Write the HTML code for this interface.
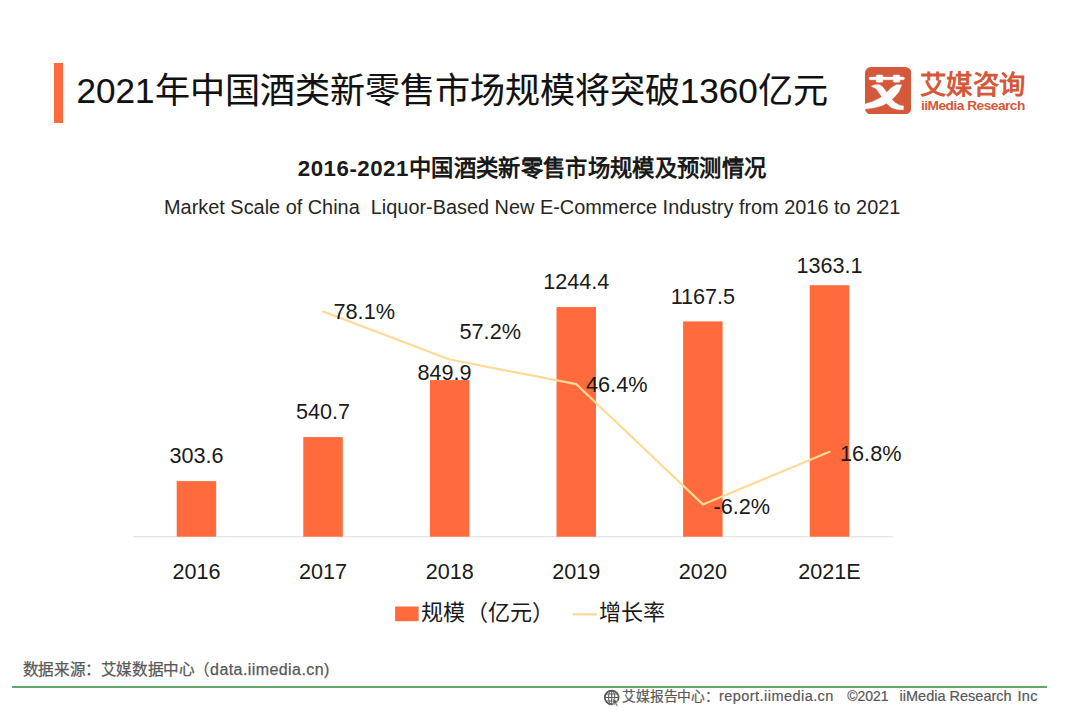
<!DOCTYPE html>
<html lang="zh-CN">
<head>
<meta charset="utf-8">
<title>2021年中国酒类新零售市场规模将突破1360亿元</title>
<style>
  html, body { margin: 0; padding: 0; }
  body {
    width: 1080px; height: 724px; position: relative; overflow: hidden;
    background: #ffffff; color: #1a1a1a;
    font-family: "Liberation Sans", sans-serif;
  }
  .abs { position: absolute; white-space: nowrap; }
  .t { position: absolute; white-space: nowrap; line-height: 1; }

  /* header */
  #accent { left: 54px; top: 63.4px; width: 9.2px; height: 59.4px; background: #ff6b3d; }
  #title { left: 76.6px; top: 70.6px; font-size: 35.1px; line-height: 40px; color: #111; -webkit-text-stroke: 0.12px #111; }

  /* logo */
  #logo-mark { left: 864.8px; top: 67px; width: 46.3px; height: 47.3px; }
  #logo-cn { left: 920px; top: 67.8px; letter-spacing: 0.25px; font-size: 26.4px; line-height: 34px; font-weight: bold; color: #d4593a; }
  #logo-en { left: 921px; top: 98px; font-size: 13.7px; line-height: 16px; font-weight: bold; color: #d4593a; letter-spacing: -0.5px; }

  /* subtitles */
  #sub-cn { left: 0; width: 1064px; text-align: center; top: 155px; font-size: 22.3px; line-height: 28px; font-weight: bold; color: #1a1a1a; letter-spacing: 0.33px; }
  #sub-cn span { letter-spacing: 0.5px; }
  #sub-en { left: 0; width: 1064.4px; text-align: center; top: 193.5px; font-size: 19.9px; line-height: 26px; color: #262626; }

  /* chart */
  #chart { left: 0; top: 0; width: 1080px; height: 724px; }
  .val  { font-size: 21.6px; line-height: 24px; color: #1a1a1a; text-align: center; width: 120px; margin-left: -60px; }
  .rate { font-size: 21.7px; line-height: 24px; color: #1a1a1a; }
  .year { font-size: 21.6px; line-height: 24px; color: #1a1a1a; text-align: center; width: 120px; margin-left: -60px; top: 560px; }

  /* legend */
  #lg1 { left: 421px; top: 598.8px; letter-spacing: 0.3px; font-size: 22.1px; line-height: 28px; color: #1a1a1a; }
  #lg2 { left: 599px; top: 598.8px; font-size: 22.1px; line-height: 28px; color: #1a1a1a; }

  /* footer */
  #src { left: 22.9px; top: 659.8px; font-size: 15.6px; line-height: 20px; color: #585858; -webkit-text-stroke: 0.25px #585858; letter-spacing: -0.4px; }
  #src span { font-size: 16px; letter-spacing: 0.42px; }
  #rule { left: 12px; top: 685.8px; width: 1035px; height: 2.3px; background: #5fa96c; }
  .cp { top: 686px; font-size: 14.5px; line-height: 20px; color: #585858; -webkit-text-stroke: 0.2px #585858; }
  #globe { left: 603px; top: 688.5px; width: 18px; height: 18px; }
</style>
</head>
<body>

<!-- header -->
<div class="abs" id="accent"></div>
<div class="abs" id="title">2021年中国酒类新零售市场规模将突破1360亿元</div>

<!-- logo -->
<svg class="abs" id="logo-mark" viewBox="0 0 46.3 47.3">
  <rect x="0" y="0" width="46.3" height="47.3" rx="6" ry="6" fill="#d4593a"/>
  <g fill="#ffffff" stroke="#ffffff" stroke-width="0.35" stroke-linejoin="round">
    <rect x="4" y="10.1" width="35.5" height="2.7" rx="1.2"/>
    <rect x="11.2" y="7.9" width="6.7" height="7.4" rx="1"/>
    <rect x="28.2" y="7.9" width="6.7" height="7.4" rx="1"/>
    <polygon points="6.29,19.35 9.77,17.86 14.74,17.69 18.06,20.34 21.78,25.31 26.34,31.94 30.48,36.08 34.63,38.15 38.60,38.98 38.35,42.71 32.14,42.54 26.34,40.64 21.78,36.50 18.06,31.53 14.33,26.14 11.01,21.58 8.11,20.34"/>
    <polygon points="31.31,17.86 36.70,17.86 33.80,24.90 28.83,30.70 23.85,34.84 18.06,38.15 9.77,40.64 0,42.05 0,36.91 8.11,34.43 15.57,30.70 21.37,25.73 26.34,20.75"/>
  </g>
</svg>
<div class="abs" id="logo-cn">艾媒咨询</div>
<div class="abs" id="logo-en">iiMedia Research</div>

<!-- subtitles -->
<div class="abs" id="sub-cn"><span>2016-2021</span>中国酒类新零售市场规模及预测情况</div>
<div class="abs" id="sub-en">Market Scale of China&nbsp; Liquor-Based New E-Commerce Industry from 2016 to 2021</div>

<!-- chart graphics -->
<svg class="abs" id="chart" viewBox="0 0 1080 724">
  <!-- axis -->
  <rect x="133.3" y="536.2" width="759.5" height="1.1" fill="#e0e0e0"/>
  <!-- bars -->
  <g fill="#ff6b3d">
    <rect x="176.7" y="481.1" width="39.5" height="55.6"/>
    <rect x="303.3" y="437.1" width="39.5" height="99.6"/>
    <rect x="429.9" y="380.1" width="39.5" height="156.6"/>
    <rect x="556.5" y="307.1" width="39.5" height="229.6"/>
    <rect x="683.1" y="321.4" width="39.5" height="215.3"/>
    <rect x="809.7" y="285.2" width="39.5" height="251.5"/>
  </g>
  <!-- growth line -->
  <polyline points="323.1,311.5 449.7,359.5 576.3,384.2 702.9,504.4 829.5,451.8"
            fill="none" stroke="#ffda96" stroke-width="2.2" stroke-linejoin="round" stroke-linecap="round"/>
  <!-- legend -->
  <rect x="395.1" y="606.5" width="23.5" height="14.7" fill="#ff6b3d"/>
  <rect x="572.6" y="613.2" width="24.3" height="2.2" fill="#ffda96"/>
</svg>

<!-- value labels -->
<div class="abs val" style="left:196.5px; top:444px;">303.6</div>
<div class="abs val" style="left:323.1px; top:400px;">540.7</div>
<div class="abs val" style="left:444.5px; top:361px;">849.9</div>
<div class="abs val" style="left:576.3px; top:270px;">1244.4</div>
<div class="abs val" style="left:702.9px; top:284.5px;">1167.5</div>
<div class="abs val" style="left:829.5px; top:253.5px;">1363.1</div>

<!-- rate labels -->
<div class="abs rate" style="left:333.5px; top:300px;">78.1%</div>
<div class="abs rate" style="left:459.5px; top:320px;">57.2%</div>
<div class="abs rate" style="left:586px; top:373px;">46.4%</div>
<div class="abs rate" style="left:713.5px; top:494.8px;">-6.2%</div>
<div class="abs rate" style="left:840px; top:442px;">16.8%</div>

<!-- year labels -->
<div class="abs year" style="left:196.5px;">2016</div>
<div class="abs year" style="left:323.1px;">2017</div>
<div class="abs year" style="left:449.7px;">2018</div>
<div class="abs year" style="left:576.3px;">2019</div>
<div class="abs year" style="left:702.9px;">2020</div>
<div class="abs year" style="left:829.5px;">2021E</div>

<!-- legend text -->
<div class="abs" id="lg1">规模（亿元）</div>
<div class="abs" id="lg2">增长率</div>

<!-- footer -->
<div class="abs" id="src">数据来源：艾媒数据中心（<span>data.iimedia.cn)</span></div>
<div class="abs" id="rule"></div>
<svg class="abs" id="globe" viewBox="0 0 18 18">
  <g fill="none" stroke="#5a5a5a">
    <circle cx="8.7" cy="8.5" r="6.9" stroke-width="1.7"/>
    <ellipse cx="8.7" cy="8.5" rx="3.1" ry="6.9" stroke-width="1.1"/>
    <path d="M1.8 8.5 H15.6 M2.9 5 H14.5 M2.9 12 H14.5 M8.7 1.6 V15.4" stroke-width="1.1"/>
  </g>
  <path d="M9.6 9.3 L16 13.2 L13.4 13.7 L15 16.7 L13.7 17.4 L12.2 14.4 L10.2 16.1 Z" fill="#5a5a5a" stroke="#ffffff" stroke-width="0.6" stroke-linejoin="round"/>
</svg>
<div class="abs cp" style="left:622.3px; top:686.8px; font-size:13.8px; letter-spacing:-0.2px;">艾媒报告中心：</div>
<div class="abs cp" style="left:719px; letter-spacing:0.45px;">report.iimedia.cn</div>
<div class="abs cp" style="left:847.2px; font-size:14px;">©2021</div>
<div class="abs cp" style="left:899.6px;">iiMedia Research</div>
<div class="abs cp" style="left:1017.5px; letter-spacing:0.3px;">Inc</div>

</body>
</html>
